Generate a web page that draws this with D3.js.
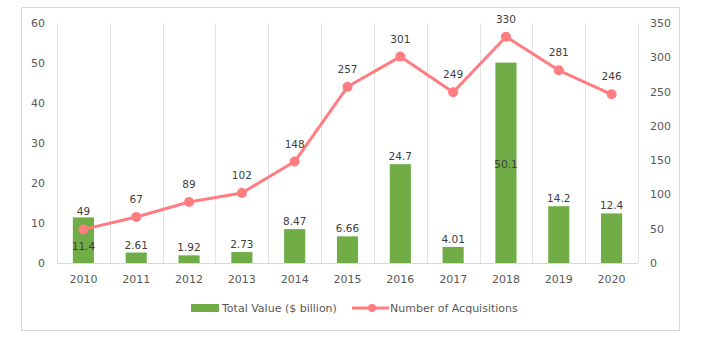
<!DOCTYPE html>
<html>
<head>
<meta charset="utf-8">
<script src="https://cdn.jsdelivr.net/npm/d3@7"></script>
<style>
  body { margin: 0; background: #fff; }
  svg text { font-family: "DejaVu Sans", Verdana, sans-serif; }
</style>
</head>
<body>
<div id="chart"></div>
<script>
// Data
const years = ["2010", "2011", "2012", "2013", "2014", "2015", "2016", "2017", "2018", "2019", "2020"];
const totalValue = [11.4, 2.61, 1.92, 2.73, 8.47, 6.66, 24.7, 4.01, 50.1, 14.2, 12.4];
const acquisitions = [49, 67, 89, 102, 148, 257, 301, 249, 330, 281, 246];
const leftTicks = [0, 10, 20, 30, 40, 50, 60];
const rightTicks = [0, 50, 100, 150, 200, 250, 300, 350];

const width = 718, height = 339;
const margin = {top: 23, right: 80, bottom: 76, left: 57};
const green = "#70ad47", salmon = "#ff7c80";

const svg = d3.select("#chart").append("svg")
    .attr("width", width)
    .attr("height", height);

// outer frame
svg.append("rect")
    .attr("x", 21.5).attr("y", 7.5)
    .attr("width", 658).attr("height", 323)
    .attr("fill", "none")
    .attr("stroke", "#d9d9d9");

const x = d3.scaleBand()
    .domain(years)
    .range([margin.left, width - margin.right])
    .paddingInner(0.6)
    .paddingOuter(0.3);

const yLeft = d3.scaleLinear().domain([0, 60]).range([height - margin.bottom, margin.top]);
const yRight = d3.scaleLinear().domain([0, 350]).range([height - margin.bottom, margin.top]);

// vertical gridlines between categories
const edges = years.map(d => x(d) - x.bandwidth() * 0.75).concat([width - margin.right]);
svg.append("g")
    .selectAll("line")
    .data(edges)
    .enter().append("line")
    .attr("x1", d => Math.round(d) + 0.5)
    .attr("x2", d => Math.round(d) + 0.5)
    .attr("y1", margin.top)
    .attr("y2", height - margin.bottom)
    .attr("stroke", "#e3e3e3");

// baseline
svg.append("line")
    .attr("x1", margin.left).attr("x2", width - margin.right)
    .attr("y1", yLeft(0) + 0.5).attr("y2", yLeft(0) + 0.5)
    .attr("stroke", "#d9d9d9");

// left axis
const axisL = svg.append("g")
    .attr("transform", `translate(${margin.left - 12},0)`)
    .call(d3.axisLeft(yLeft).tickValues(leftTicks).tickSize(0).tickPadding(0));
axisL.select(".domain").remove();
axisL.selectAll("text").attr("fill", "#595959").style("font-size", "11px");

// right axis
const axisR = svg.append("g")
    .attr("transform", `translate(${width - margin.right + 12},0)`)
    .call(d3.axisRight(yRight).tickValues(rightTicks).tickSize(0).tickPadding(0));
axisR.select(".domain").remove();
axisR.selectAll("text").attr("fill", "#595959").style("font-size", "11px");

// x axis
const axisX = svg.append("g")
    .attr("transform", `translate(0,${yLeft(0)})`)
    .call(d3.axisBottom(x).tickSize(0).tickPadding(12));
axisX.select(".domain").remove();
axisX.selectAll("text").attr("fill", "#595959").style("font-size", "11px");

// bars
svg.append("g")
    .selectAll("rect")
    .data(totalValue)
    .enter().append("rect")
    .attr("x", (d, i) => x(years[i]))
    .attr("width", x.bandwidth())
    .attr("y", d => yLeft(d))
    .attr("height", d => yLeft(0) - yLeft(d))
    .attr("fill", green);

// bar labels; a couple sit inside the bar to keep clear of the line
const barLabelShift = {"2010": 37, "2018": 109};
svg.append("g")
    .selectAll("text")
    .data(totalValue)
    .enter().append("text")
    .attr("x", (d, i) => x(years[i]) + x.bandwidth() / 2)
    .attr("y", (d, i) => yLeft(d) - 4 + (barLabelShift[years[i]] || 0))
    .attr("text-anchor", "middle")
    .attr("fill", "#404040")
    .style("font-size", "10.5px")
    .text(d => d);

// acquisitions line
const line = d3.line()
    .x((d, i) => x(years[i]) + x.bandwidth() / 2)
    .y(d => yRight(d));

svg.append("path")
    .datum(acquisitions)
    .attr("d", line)
    .attr("fill", "none")
    .attr("stroke", salmon)
    .attr("stroke-width", 3)
    .attr("stroke-linejoin", "round");

svg.append("g")
    .selectAll("circle")
    .data(acquisitions)
    .enter().append("circle")
    .attr("cx", (d, i) => x(years[i]) + x.bandwidth() / 2)
    .attr("cy", d => yRight(d))
    .attr("r", 5)
    .attr("fill", salmon);

svg.append("g")
    .selectAll("text")
    .data(acquisitions)
    .enter().append("text")
    .attr("x", (d, i) => x(years[i]) + x.bandwidth() / 2)
    .attr("y", d => yRight(d) - 14)
    .attr("text-anchor", "middle")
    .attr("fill", "#404040")
    .style("font-size", "10.5px")
    .text(d => d);

// legend
const legend = svg.append("g").attr("transform", "translate(0,308)");
legend.append("rect")
    .attr("x", 191).attr("y", -4)
    .attr("width", 28).attr("height", 8)
    .attr("fill", green);
legend.append("text")
    .attr("x", 222).attr("y", 4)
    .attr("fill", "#595959")
    .style("font-size", "11px")
    .text("Total Value ($ billion)");
legend.append("line")
    .attr("x1", 352).attr("x2", 389)
    .attr("y1", 0).attr("y2", 0)
    .attr("stroke", salmon)
    .attr("stroke-width", 3);
legend.append("circle")
    .attr("cx", 372).attr("cy", 0)
    .attr("r", 4)
    .attr("fill", salmon);
legend.append("text")
    .attr("x", 390).attr("y", 4)
    .attr("fill", "#595959")
    .style("font-size", "11px")
    .text("Number of Acquisitions");
</script>
</body>
</html>
